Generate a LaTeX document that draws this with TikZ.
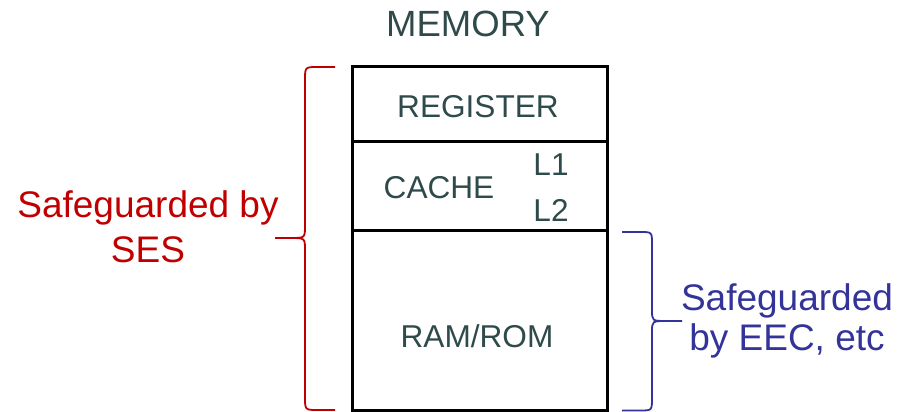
\documentclass[tikz,border=0pt]{standalone}
\usepackage{fontspec}
\setmainfont{Liberation Sans}
\definecolor{slatetext}{RGB}{47,74,74}
\definecolor{sesred}{RGB}{192,0,0}
\definecolor{eecblue}{RGB}{51,51,153}
\tikzset{
  memline/.style={draw=black, line width=3pt},
  celltext/.style={text=slatetext, font=\fontsize{31.6}{38}\selectfont, inner sep=0pt},
  bracered/.style={draw=sesred, line width=1.8pt},
  braceblue/.style={draw=eecblue, line width=1.8pt},
}
\begin{document}
\begin{tikzpicture}[x=1pt, y=-1pt]
  \useasboundingbox (0,0) rectangle (897,412);

  % memory stack outline and partitions
  \coordinate (tl) at (352,67);
  \coordinate (tr) at (607,67);
  \coordinate (bl) at (352,410);
  \coordinate (br) at (607,410);
  \coordinate (s1l) at (352,141);
  \coordinate (s1r) at (607,141);
  \coordinate (s2l) at (352,230);
  \coordinate (s2r) at (607,230);
  \draw[memline] (tl) -- (tr) -- (br) -- (bl) -- cycle;
  \draw[memline] (s1l) -- (s1r);
  \draw[memline] (s2l) -- (s2r);

  % labels
  \node[celltext, font=\fontsize{36.5}{44}\selectfont] (mem) at (468,24) {MEMORY};
  \node[celltext] (reg) at (478,107) {REGISTER};
  \node[celltext] (cache) at (439,188) {CACHE};
  \node[celltext] (l1) at (551,165) {L1};
  \node[celltext] (l2) at (551,210) {L2};
  \node[celltext] (ram) at (477,336) {RAM/ROM};

  % left brace: register + cache + memory
  \draw[bracered] (335,67) -- (318,67) .. controls (305,67) .. (305,80)
    -- (305,226) .. controls (305,238) .. (290,238) -- (275,238);
  \draw[bracered] (290,238) .. controls (305,238) .. (305,250)
    -- (305,397) .. controls (305,410) .. (318,410) -- (335,410);
  \node[text=sesred, font=\fontsize{37}{45}\selectfont, align=center, anchor=base, inner sep=0pt]
    (ses) at (148,262) {Safeguarded by\\SES};

  % right brace: main memory
  \draw[braceblue] (622,232) -- (640,232) .. controls (652,232) .. (652,244)
    -- (652,310) .. controls (652,321) .. (667,321) -- (682,321);
  \draw[braceblue] (667,321) .. controls (652,321) .. (652,332)
    -- (652,398) .. controls (652,410.5) .. (640,410.5) -- (622,410.5);
  \node[text=eecblue, font=\fontsize{37}{40}\selectfont, align=center, anchor=base, inner sep=0pt]
    (eec) at (787,350) {Safeguarded\\by EEC, etc};
\end{tikzpicture}
\end{document}
